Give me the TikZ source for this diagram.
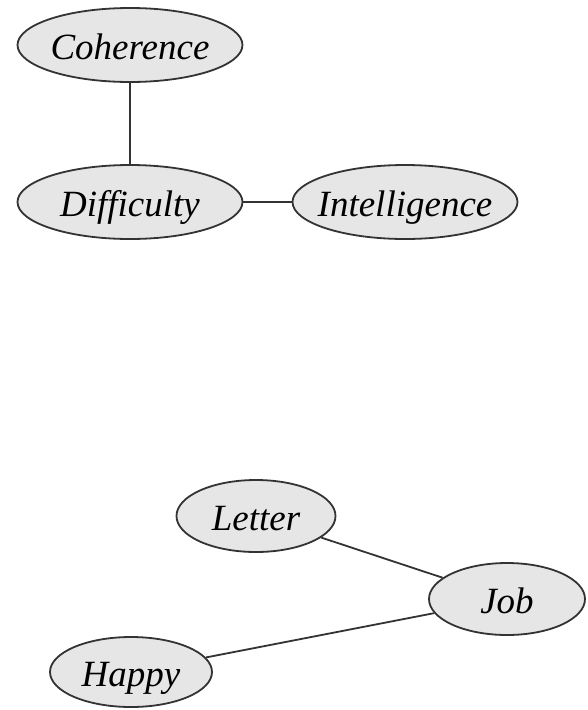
\documentclass[tikz,border=0pt]{standalone}
\usepackage{fontspec}
\setmainfont{Liberation Serif}
\usetikzlibrary{shapes.geometric}
\definecolor{nodefill}{HTML}{E6E6E6}
\definecolor{edgecol}{HTML}{333333}
\newcommand{\lbl}[1]{\makebox[0pt]{\raisebox{-14pt}[0pt][0pt]{\fontsize{37}{40}\selectfont\itshape #1}}}
\begin{document}
\begin{tikzpicture}[x=1pt,y=-1pt,
  var/.style={ellipse, draw=edgecol, fill=nodefill, line width=1.8pt, inner sep=0pt},
  wide/.style={var, minimum width=225pt, minimum height=74pt},
  small/.style={var, minimum width=159pt, minimum height=72pt},
  link/.style={draw=edgecol, line width=1.8pt}]
\useasboundingbox (0,0) rectangle (587,710);
\node[wide] (coh) at (130,45) {\lbl{Coherence}};
\node[wide] (dif) at (130,202) {\lbl{Difficulty}};
\node[wide] (int) at (405,202) {\lbl{Intelligence}};
\node[small] (let) at (256,516) {\lbl{Letter}};
\node[small, minimum width=156pt] (job) at (507,599) {\lbl{Job}};
\node[small, minimum width=162pt, minimum height=70pt] (hap) at (131,672) {\lbl{Happy}};
\draw[link] (coh) -- (dif);
\draw[link] (dif) -- (int);
\draw[link] (let) -- (job);
\draw[link] (hap) -- (job);
\end{tikzpicture}
\end{document}
